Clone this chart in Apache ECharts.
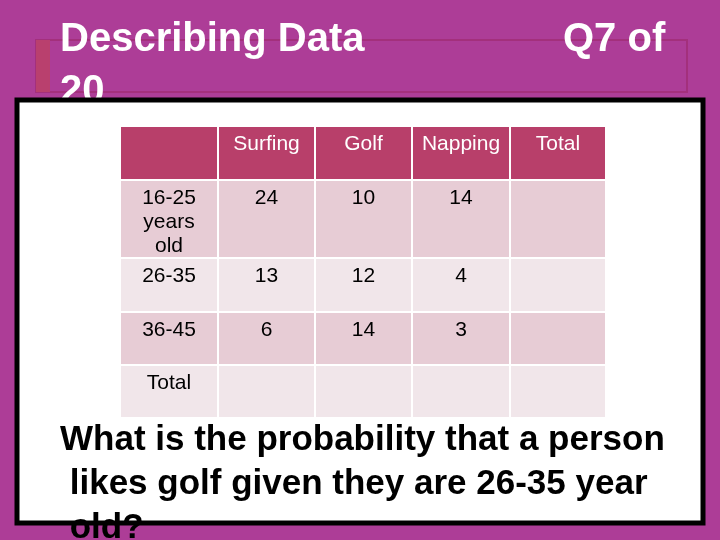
<!DOCTYPE html>
<html><head><meta charset="utf-8">
<script src="https://cdn.jsdelivr.net/npm/echarts@6/dist/echarts.min.js"></script>
<style>html,body{margin:0;padding:0;background:#AD3D97}#c{width:720px;height:540px}</style>
</head><body><div id="c"></div>
<script>
const columns = ["", "Surfing", "Golf", "Napping", "Total"];
const rowLabels = ["16-25\nyears\nold", "26-35", "36-45", "Total"];
const surfing = [24, 13, 6, ""];
const golf = [10, 12, 14, ""];
const napping = [14, 4, 3, ""];
const totals = ["", "", "", ""];

const colX = [120, 218, 315, 412, 510, 606];
const rowY = [126, 180, 258, 312, 365, 418];
const F = "Liberation Sans, Arial, sans-serif";
const g = [];
g.push({type:'text', left:60, top:20, z:1, style:{text:'Describing Data', fill:'#fff', font:'bold 40px '+F}});
g.push({type:'text', left:563, top:20, z:1, style:{text:'Q7 of', fill:'#fff', font:'bold 40px '+F}});
g.push({type:'text', left:60, top:72, z:1, style:{text:'20', fill:'#fff', font:'bold 40px '+F}});
g.push({type:'rect', z:0, shape:{x:36,y:40,width:651,height:52}, style:{fill:'none', stroke:'#a3307c', lineWidth:2}});
g.push({type:'rect', z:0, shape:{x:36,y:40,width:14,height:52}, style:{fill:'#b9406e'}});
g.push({type:'rect', z:5, shape:{x:17,y:100,width:686,height:423}, style:{fill:'#fff', stroke:'#000', lineWidth:5}});
const rowsData = rowLabels.map((l,i)=>[l, surfing[i], golf[i], napping[i], totals[i]]);
const all = [columns].concat(rowsData);
const fills = ['#b83f6a','#e7ccd5','#f1e6ea','#e7ccd5','#f1e6ea'];
all.forEach((row,r)=>{
  row.forEach((v,c)=>{
    const x=colX[c], y=rowY[r], w=colX[c+1]-x, h=rowY[r+1]-y;
    g.push({type:'rect', z:6, shape:{x,y,width:w,height:h}, style:{fill:fills[r], stroke:'#fff', lineWidth:2}});
    g.push({type:'text', z:7, x: x+w/2, y: y+6, style:{text:String(v), fill: r===0?'#fff':'#000', font:'21px '+F, align:'center', verticalAlign:'top', lineHeight:24}});
  });
});
g.push({type:'text', z:8, left:60, top:418, style:{text:'What is the probability that a person\n likes golf given they are 26-35 year\n old?', fill:'#000', font:'bold 35px '+F, lineHeight:44}});
const chart = echarts.init(document.getElementById('c'));
chart.setOption({backgroundColor:'#AD3D97', graphic:g});
</script></body></html>
